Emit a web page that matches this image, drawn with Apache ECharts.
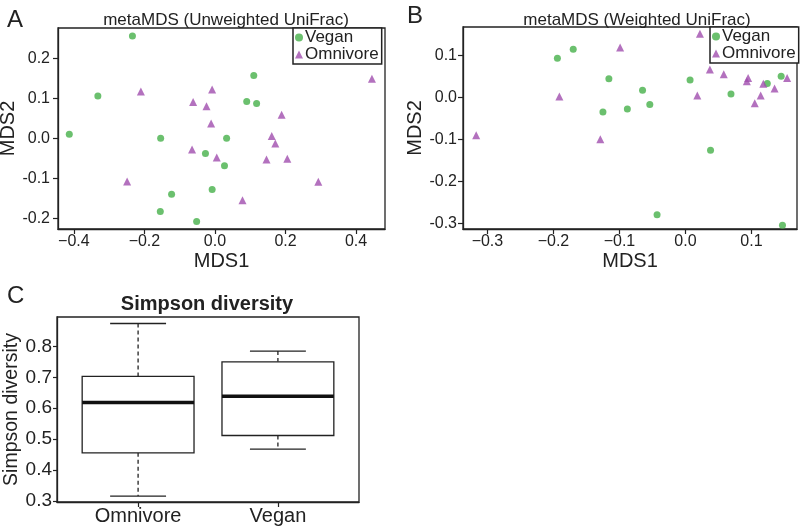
<!DOCTYPE html>
<html><head><meta charset="utf-8">
<script src="https://cdn.jsdelivr.net/npm/echarts@6/dist/echarts.min.js"></script>
<style>html,body{margin:0;padding:0;background:#fff}#c{width:800px;height:530px}</style>
</head><body><div id="c"></div>
<script>
// ---- Panel A: metaMDS (Unweighted UniFrac) ----
const unweightedVegan = [[-0.234,0.256],[-0.332,0.106],[-0.413,0.010],[-0.154,0.000],[0.110,0.157],[0.090,0.092],[0.118,0.087],[0.033,0.000],[-0.027,-0.038],[0.027,-0.069],[-0.008,-0.128],[-0.123,-0.140],[-0.155,-0.183],[-0.052,-0.208]];
const unweightedOmnivore = [[-0.210,0.117],[-0.062,0.091],[-0.008,0.122],[-0.024,0.080],[-0.011,0.037],[-0.065,-0.028],[0.005,-0.048],[-0.249,-0.108],[0.078,-0.155],[0.189,0.059],[0.161,0.006],[0.171,-0.013],[0.146,-0.053],[0.205,-0.051],[0.293,-0.109],[0.445,0.149]];
const unweightedXTicks = [-0.4,-0.2,0.0,0.2,0.4];
const unweightedYTicks = [-0.2,-0.1,0.0,0.1,0.2];
// ---- Panel B: metaMDS (Weighted UniFrac) ----
const weightedVegan = [[-0.194,0.093],[-0.170,0.114],[-0.116,0.044],[-0.065,0.017],[-0.125,-0.035],[-0.088,-0.028],[-0.054,-0.017],[0.007,0.041],[0.069,0.008],[0.124,0.033],[0.145,0.050],[0.038,-0.126],[-0.043,-0.279],[0.147,-0.304]];
const weightedOmnivore = [[-0.317,-0.090],[-0.191,0.002],[-0.129,-0.100],[-0.099,0.118],[0.022,0.151],[0.018,0.004],[0.037,0.066],[0.058,0.055],[0.095,0.046],[0.093,0.038],[0.114,0.004],[0.105,-0.014],[0.118,0.032],[0.135,0.021],[0.154,0.046]];
const weightedXTicks = [-0.3,-0.2,-0.1,0.0,0.1];
const weightedYTicks = [-0.3,-0.2,-0.1,0.0,0.1];
// ---- Panel C: Simpson diversity boxplot ----
const boxCategories = ['Omnivore','Vegan'];
const omnivoreBox = [0.316, 0.456, 0.619, 0.703, 0.874]; // low whisker, Q1, median, Q3, high whisker
const veganBox = [0.468, 0.512, 0.639, 0.750, 0.785];
const simpsonYTicks = [0.3,0.4,0.5,0.6,0.7,0.8];

const FONT = '"Liberation Sans", Arial, Helvetica, sans-serif';
const INK = '#222';
const GREEN = '#46B04A';
const PURPLE = '#A04DAE';

const chart = echarts.init(document.getElementById('c'), null, {renderer:'canvas'});

function valAxis(opt){
  return Object.assign({
    type:'value', scale:true,
    axisLine:{show:true, onZero:false, lineStyle:{color:INK, width:1.3}},
    splitLine:{show:false},
    nameLocation:'middle',
    nameTextStyle:{fontFamily:FONT, fontSize:20, color:INK}
  }, opt);
}
const xFmt = v => (v < 0 ? '\u2212' : '') + Math.abs(v).toFixed(1);
const yFmt = v => v.toFixed(1);

const gridBase = {show:true, borderColor:INK, borderWidth:1.3, backgroundColor:'transparent', containLabel:false, outerBoundsMode:'none'};

const option = {
  backgroundColor:'#fff',
  animation:false,
  title:[
    {text:'A', left:2, top:3, textStyle:{fontFamily:FONT, fontSize:24, fontWeight:'normal', color:INK}},
    {text:'B', left:402, top:-1, textStyle:{fontFamily:FONT, fontSize:24, fontWeight:'normal', color:INK}},
    {text:'C', left:2, top:279, textStyle:{fontFamily:FONT, fontSize:24, fontWeight:'normal', color:INK}},
    {text:'metaMDS (Unweighted UniFrac)', left:221, textAlign:'center', top:7, textStyle:{fontFamily:FONT, fontSize:17, fontWeight:'normal', color:INK}},
    {text:'metaMDS (Weighted UniFrac)', left:632, textAlign:'center', top:7, textStyle:{fontFamily:FONT, fontSize:17, fontWeight:'normal', color:INK}},
    {text:'Simpson diversity', left:202, textAlign:'center', top:289, textStyle:{fontFamily:FONT, fontSize:20, fontWeight:'bold', color:INK}}
  ],
  legend:[
    {data:['Vegan','Omnivore'], orient:'vertical', left:293, top:28, itemGap:0, itemWidth:8, itemHeight:8,
     padding:[1,3,1,2], borderColor:INK, borderWidth:1.5, backgroundColor:'#fff',
     textStyle:{fontFamily:FONT, fontSize:17, color:INK, lineHeight:15, padding:[0,0,0,-3]}},
    {data:['Vegan','Omnivore'], orient:'vertical', left:710, top:27, itemGap:0, itemWidth:8, itemHeight:8,
     padding:[1,3,1,2], borderColor:INK, borderWidth:1.5, backgroundColor:'#fff',
     textStyle:{fontFamily:FONT, fontSize:17, color:INK, lineHeight:15, padding:[0,0,0,-3]}}
  ],
  grid:[
    Object.assign({left:58, top:28, width:327, height:201}, gridBase),
    Object.assign({left:463, top:27, width:334, height:202}, gridBase),
    Object.assign({left:57, top:317, width:302, height:185}, gridBase)
  ],
  xAxis:[
    valAxis({gridIndex:0, min:-0.445, max:0.482, name:'MDS1', nameGap:22,
      axisTick:{show:true, length:5, lineStyle:{color:INK, width:1.2}, customValues:unweightedXTicks},
      axisLabel:{customValues:unweightedXTicks, formatter:xFmt, fontFamily:FONT, fontSize:16, color:INK, margin:5}}),
    valAxis({gridIndex:1, min:-0.337, max:0.169, name:'MDS1', nameGap:22,
      axisTick:{show:true, length:5, lineStyle:{color:INK, width:1.2}, customValues:weightedXTicks},
      axisLabel:{customValues:weightedXTicks, formatter:xFmt, fontFamily:FONT, fontSize:16, color:INK, margin:5}}),
    valAxis({gridIndex:2, min:0.42, max:2.58,
      axisTick:{show:true, length:5, lineStyle:{color:INK, width:1.2}, customValues:[1,2]},
      axisLabel:{customValues:[1,2], formatter:v => boxCategories[Math.round(v)-1] || '', fontFamily:FONT, fontSize:20, color:INK, margin:4}})
  ],
  yAxis:[
    valAxis({gridIndex:0, min:-0.227, max:0.276, name:'MDS2', nameGap:33,
      axisTick:{show:true, length:5, lineStyle:{color:INK, width:1.2}, customValues:unweightedYTicks},
      axisLabel:{customValues:unweightedYTicks, formatter:yFmt, fontFamily:FONT, fontSize:16, color:INK, margin:8}}),
    valAxis({gridIndex:1, min:-0.313, max:0.167, name:'MDS2', nameGap:35,
      axisTick:{show:true, length:5, lineStyle:{color:INK, width:1.2}, customValues:weightedYTicks},
      axisLabel:{customValues:weightedYTicks, formatter:yFmt, fontFamily:FONT, fontSize:16, color:INK, margin:6}}),
    valAxis({gridIndex:2, min:0.297, max:0.895, name:'Simpson diversity', nameGap:33,
      nameTextStyle:{fontFamily:FONT, fontSize:19.5, color:INK},
      axisTick:{show:true, length:4, lineStyle:{color:INK, width:1.2}, customValues:simpsonYTicks},
      axisLabel:{customValues:simpsonYTicks, formatter:yFmt, fontFamily:FONT, fontSize:19, color:INK, margin:5}})
  ],
  series:[
    {name:'Vegan', type:'scatter', xAxisIndex:0, yAxisIndex:0, data:unweightedVegan, symbol:'circle', symbolSize:7, itemStyle:{color:GREEN}},
    {name:'Omnivore', type:'scatter', xAxisIndex:0, yAxisIndex:0, data:unweightedOmnivore, symbol:'triangle', symbolSize:8, itemStyle:{color:PURPLE}},
    {name:'Vegan', type:'scatter', xAxisIndex:1, yAxisIndex:1, data:weightedVegan, symbol:'circle', symbolSize:7, itemStyle:{color:GREEN}},
    {name:'Omnivore', type:'scatter', xAxisIndex:1, yAxisIndex:1, data:weightedOmnivore, symbol:'triangle', symbolSize:8, itemStyle:{color:PURPLE}},
    {name:'Simpson', type:'custom', xAxisIndex:2, yAxisIndex:2,
     encode:{x:0, y:[1,2,3,4,5]},
     data:[omnivoreBox, veganBox].map((b,i) => [i+1].concat(b)),
     renderItem:function(params, api){
       const x = api.value(0);
       const lo = api.value(1), q1 = api.value(2), med = api.value(3), q3 = api.value(4), hi = api.value(5);
       const boxL = api.coord([x-0.4, q3]);
       const boxR = api.coord([x+0.4, q1]);
       const cHi = api.coord([x, hi]), cQ3 = api.coord([x, q3]), cQ1 = api.coord([x, q1]), cLo = api.coord([x, lo]);
       const capL = api.coord([x-0.2, hi])[0], capR = api.coord([x+0.2, hi])[0];
       const mL = api.coord([x-0.4, med]);
       const mR = api.coord([x+0.4, med]);
       const ls = {stroke:INK, lineWidth:1.3, fill:null};
       return {type:'group', children:[
         {type:'line', shape:{x1:cHi[0], y1:cHi[1], x2:cQ3[0], y2:cQ3[1]}, style:Object.assign({lineDash:[4,3]}, ls)},
         {type:'line', shape:{x1:cQ1[0], y1:cQ1[1], x2:cLo[0], y2:cLo[1]}, style:Object.assign({lineDash:[4,3]}, ls)},
         {type:'line', shape:{x1:capL, y1:cHi[1], x2:capR, y2:cHi[1]}, style:ls},
         {type:'line', shape:{x1:capL, y1:cLo[1], x2:capR, y2:cLo[1]}, style:ls},
         {type:'rect', shape:{x:boxL[0], y:boxL[1], width:boxR[0]-boxL[0], height:boxR[1]-boxL[1]}, style:{fill:'#fff', stroke:INK, lineWidth:1.3}},
         {type:'line', shape:{x1:mL[0], y1:mL[1], x2:mR[0], y2:mR[1]}, style:{stroke:'#111', lineWidth:3.5}}
       ]};
     }}
  ]
};
chart.setOption(option);
</script>
</body></html>
